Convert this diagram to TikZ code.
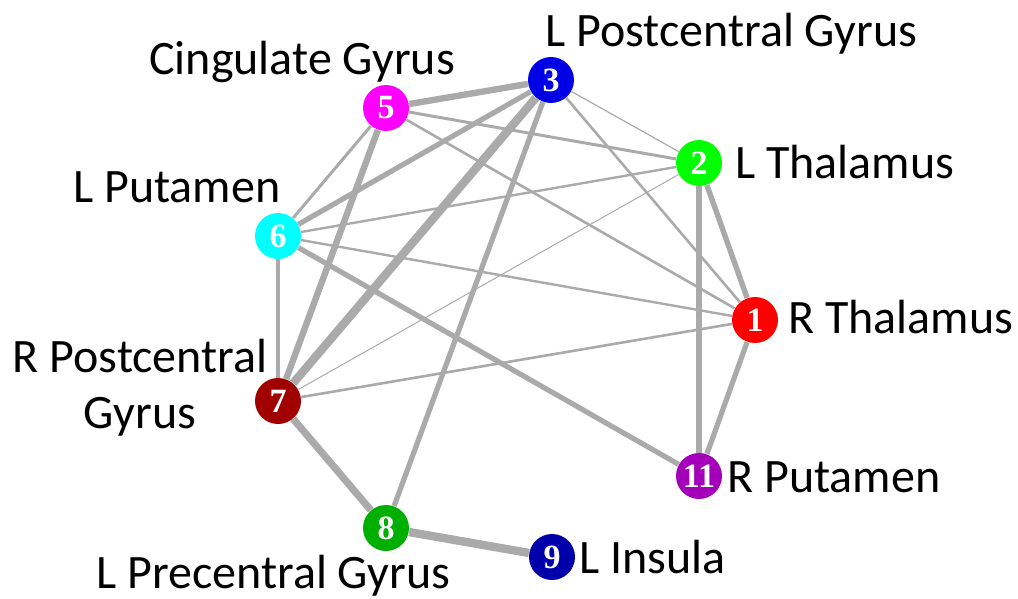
\documentclass[tikz,border=0pt]{standalone}
\usepackage{fontspec}
\setmainfont{Carlito}
\newfontfamily\numfont{Liberation Serif}
\definecolor{edgegray}{RGB}{170,170,170}
\definecolor{rthal}{RGB}{255,0,0}
\definecolor{lthal}{RGB}{0,255,0}
\definecolor{lpost}{RGB}{0,0,230}
\definecolor{cing}{RGB}{255,0,255}
\definecolor{lput}{RGB}{0,255,255}
\definecolor{rpost}{RGB}{160,0,0}
\definecolor{lprec}{RGB}{0,175,0}
\definecolor{linsu}{RGB}{0,0,170}
\definecolor{rput}{RGB}{165,0,185}
\tikzset{
  region/.style={circle,fill=#1,minimum size=23pt,inner sep=0pt,text=white,
    font=\numfont\bfseries\fontsize{17}{17}\selectfont},
  conn/.style={draw=edgegray,line width=#1},
  lbl/.style={inner sep=0pt,font=\fontsize{24}{27}\selectfont}
}
\begin{document}
\begin{tikzpicture}[x=0.5pt,y=-0.5pt]%Red de regiones cerebrales
    \useasboundingbox (0,0) rectangle (1018,599);

    \node[region=rthal] (r1) at (755,320) {1};
    \node[region=lthal] (r2) at (699,163) {2};
    \node[region=lpost] (r3) at (551,80) {3};
    \node[region=cing]  (r5) at (386,108) {5};
    \node[region=lput]  (r6) at (278,236) {6};
    \node[region=rpost] (r7) at (278,401) {7};
    \node[region=lprec] (r8) at (386,528) {8};
    \node[region=linsu] (r9) at (552,557) {9};
    \node[region=rput]  (r11) at (699,476) {11};

    \draw[conn=3.2pt] (r5) -- (r3);
    \draw[conn=1.5pt] (r5) -- (r2);
    \draw[conn=1.3pt] (r5) -- (r1);
    \draw[conn=1.5pt] (r5) -- (r6);
    \draw[conn=3.2pt] (r5) -- (r7);
    \draw[conn=2.6pt] (r3) -- (r6);
    \draw[conn=4.2pt] (r3) -- (r7);
    \draw[conn=2.6pt] (r3) -- (r8);
    \draw[conn=0.6pt] (r3) -- (r2);
    \draw[conn=1.3pt] (r3) -- (r1);
    \draw[conn=1.2pt] (r2) -- (r6);
    \draw[conn=0.5pt] (r2) -- (r7);
    \draw[conn=2.7pt] (r2) -- (r1);
    \draw[conn=2.6pt] (r2) -- (r11);
    \draw[conn=1.2pt] (r6) -- (r1);
    \draw[conn=2.6pt] (r6) -- (r11);
    \draw[conn=1.6pt] (r6) -- (r7);
    \draw[conn=1.3pt] (r7) -- (r1);
    \draw[conn=3.6pt] (r7) -- (r8);
    \draw[conn=2.6pt] (r1) -- (r11);
    \draw[conn=4.2pt] (r8) -- (r9);

    \node[lbl,anchor=base west] (t3) at (545,47) {L Postcentral Gyrus};
    \node[lbl,anchor=base west] (t5) at (149,75) {Cingulate Gyrus};
    \node[lbl,anchor=base west] (t2) at (735,178) {L Thalamus};
    \node[lbl,anchor=base west] (t6) at (73,202) {L Putamen};
    \node[lbl,anchor=base west] (t1) at (788,333) {R Thalamus};
    \node[lbl,anchor=base] (t7a) at (140,372) {R Postcentral};
    \node[lbl,anchor=base] (t7b) at (140,428) {Gyrus};
    \node[lbl,anchor=base west] (t11) at (727,492) {R Putamen};
    \node[lbl,anchor=base west] (t9) at (579,573) {L Insula};
    \node[lbl,anchor=base west] (t8) at (96,588) {L Precentral Gyrus};
\end{tikzpicture}
\end{document}
